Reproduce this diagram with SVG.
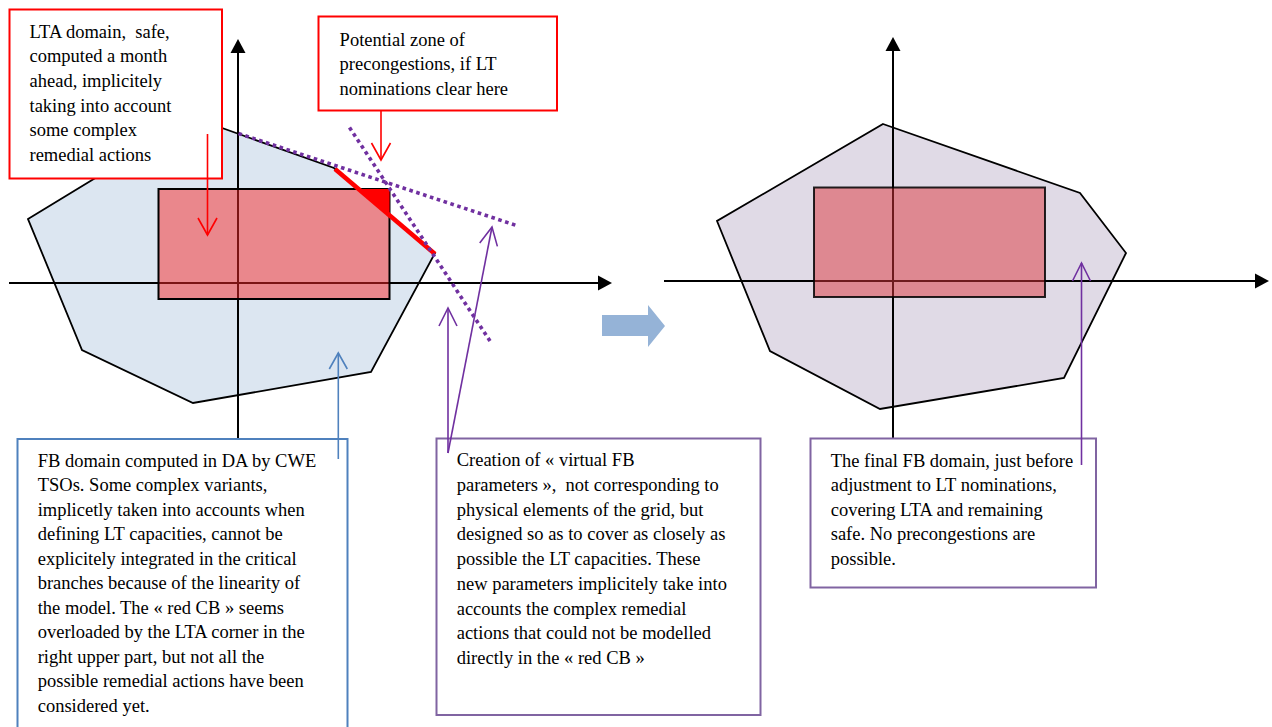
<svg xmlns="http://www.w3.org/2000/svg" width="1272" height="727" viewBox="0 0 1272 727">
<style>
.poly{stroke:#000;stroke-width:1.8;stroke-linejoin:miter}
.axis{stroke:#000;stroke-width:2;fill:none}
.dot{stroke:#7030a0;stroke-width:3.6;stroke-dasharray:3.6 3.6;fill:none}
.box{fill:#fff;stroke-width:2}
.red{stroke:#ff0000}
.t{font-family:"Liberation Serif","Times New Roman",serif;font-size:18.5px;fill:#000}
.arr{fill:none;stroke-width:1.6}
</style>
<defs>
<marker id="axhead" markerUnits="userSpaceOnUse" overflow="visible" orient="auto" refX="0" refY="0" markerWidth="14" markerHeight="16">
<path d="M0,-7.5 L14,0 L0,7.5 Z" fill="#000"/>
</marker>
<marker id="openRed" markerUnits="userSpaceOnUse" overflow="visible" orient="auto" refX="0" refY="0" markerWidth="18" markerHeight="20">
<path d="M-17,-9.5 L0,0 L-17,9.5" fill="none" stroke="#ff0000" stroke-width="1.6"/>
</marker>
<marker id="openBlue" markerUnits="userSpaceOnUse" overflow="visible" orient="auto" refX="0" refY="0" markerWidth="18" markerHeight="20">
<path d="M-16,-9 L0,0 L-16,9" fill="none" stroke="#4f81bd" stroke-width="1.6"/>
</marker>
<marker id="openPurple" markerUnits="userSpaceOnUse" overflow="visible" orient="auto" refX="0" refY="0" markerWidth="18" markerHeight="20">
<path d="M-18,-9 L0,0 L-18,9" fill="none" stroke="#7030a0" stroke-width="1.6"/>
</marker>
</defs>
<rect width="1272" height="727" fill="#fff"/>

<g id="left-fb-domain">
<polygon class="poly" fill="#dce6f1" points="28,219 194,118 334,168 435,253 371,372 193,403 82,350"/>
</g>
<g id="left-axes">
<line class="axis" x1="9" y1="283" x2="598" y2="283" marker-end="url(#axhead)"/>
<line class="axis" x1="238" y1="439" x2="238" y2="53" marker-end="url(#axhead)"/>
</g>
<g id="left-lta">
<rect x="158.5" y="189" width="231" height="110" fill="#f82827" fill-opacity="0.5" stroke="#000" stroke-width="2"/>
</g>
<g id="red-cb">
<polygon points="359,189 389.5,189 389.5,214" fill="#ff0000"/>
<line x1="335" y1="169" x2="435" y2="254" stroke="#ff0000" stroke-width="4.5"/>
</g>
<g id="virtual-fb-parameters">
<line class="dot" x1="238.5" y1="133.5" x2="518" y2="226"/>
<line class="dot" x1="349.5" y1="127.5" x2="492" y2="344"/>
</g>

<g id="right-fb-domain">
<polygon class="poly" fill="#e0dae6" points="883,124 1080,193 1126,253 1064,378 880,409 770,351 717,221"/>
</g>
<g id="right-axes">
<line class="axis" x1="664" y1="281" x2="1255" y2="281" marker-end="url(#axhead)"/>
<line class="axis" x1="893" y1="438" x2="893" y2="51" marker-end="url(#axhead)"/>
</g>
<g id="right-lta">
<rect x="814" y="187.5" width="231" height="109.5" fill="#dc363b" fill-opacity="0.5" stroke="#000" stroke-opacity="0.85" stroke-width="2"/>
</g>

<g id="transition-arrow">
<polygon points="602,315 648,315 648,305 665,326 648,347 648,336 602,336" fill="#95b3d7"/>
</g>

<g id="lta-note">
<rect class="box red" x="9.5" y="9.5" width="212.5" height="169"/>
<text class="t" x="29.5" y="37.5">LTA domain,&#160; safe,</text>
<text class="t" x="29.5" y="62.2">computed a month</text>
<text class="t" x="29.5" y="86.9">ahead, implicitely</text>
<text class="t" x="29.5" y="111.6">taking into account</text>
<text class="t" x="29.5" y="136.3">some complex</text>
<text class="t" x="29.5" y="161">remedial actions</text>
</g>

<g id="precongestion-note">
<rect class="box red" x="318.5" y="16.5" width="238.5" height="94"/>
<text class="t" x="339.6" y="45.7">Potential zone of</text>
<text class="t" x="339.6" y="70.3">precongestions, if LT</text>
<text class="t" x="339.6" y="95">nominations clear here</text>
</g>

<g id="fb-da-note">
<rect class="box" stroke="#4f81bd" x="17.5" y="439" width="330" height="300"/>
<text class="t" x="37.7" y="466.7">FB domain computed in DA by CWE</text>
<text class="t" x="37.7" y="491.2">TSOs. Some complex variants,</text>
<text class="t" x="37.7" y="515.7">implicetly taken into accounts when</text>
<text class="t" x="37.7" y="540.2">defining LT capacities, cannot be</text>
<text class="t" x="37.7" y="564.7">explicitely integrated in the critical</text>
<text class="t" x="37.7" y="589.2">branches because of the linearity of</text>
<text class="t" x="37.7" y="613.7">the model. The « red CB » seems</text>
<text class="t" x="37.7" y="638.2">overloaded by the LTA corner in the</text>
<text class="t" x="37.7" y="662.7">right upper part, but not all the</text>
<text class="t" x="37.7" y="687.2">possible remedial actions have been</text>
<text class="t" x="37.7" y="711.7">considered yet.</text>
</g>

<g id="virtual-fb-note">
<rect class="box" stroke="#8064a2" x="436.5" y="438.5" width="324" height="276.5"/>
<text class="t" x="456.7" y="466">Creation of « virtual FB</text>
<text class="t" x="456.7" y="490.7">parameters »,&#160; not corresponding to</text>
<text class="t" x="456.7" y="515.5">physical elements of the grid, but</text>
<text class="t" x="456.7" y="540.2">designed so as to cover as closely as</text>
<text class="t" x="456.7" y="565">possible the LT capacities. These</text>
<text class="t" x="456.7" y="589.7">new parameters implicitely take into</text>
<text class="t" x="456.7" y="614.5">accounts the complex remedial</text>
<text class="t" x="456.7" y="639.2">actions that could not be modelled</text>
<text class="t" x="456.7" y="664">directly in the « red CB »</text>
</g>

<g id="final-fb-note">
<rect class="box" stroke="#8064a2" x="810.5" y="438.5" width="285.5" height="149"/>
<text class="t" x="830.7" y="466.7">The final FB domain, just before</text>
<text class="t" x="830.7" y="491.2">adjustment to LT nominations,</text>
<text class="t" x="830.7" y="515.7">covering LTA and remaining</text>
<text class="t" x="830.7" y="540.2">safe. No precongestions are</text>
<text class="t" x="830.7" y="564.7">possible.</text>
</g>

<g id="connectors">
<line class="arr" stroke="#ff0000" x1="207.5" y1="134" x2="207.5" y2="235" marker-end="url(#openRed)"/>
<line class="arr" stroke="#ff0000" x1="381" y1="111" x2="381" y2="160" marker-end="url(#openRed)"/>
<line class="arr" stroke="#4f81bd" x1="338.3" y1="459" x2="338.3" y2="353" marker-end="url(#openBlue)"/>
<line class="arr" stroke="#7030a0" x1="448" y1="453" x2="448" y2="308" marker-end="url(#openPurple)"/>
<line class="arr" stroke="#7030a0" x1="448" y1="453" x2="492" y2="227" marker-end="url(#openPurple)"/>
<line class="arr" stroke="#7030a0" x1="1081.5" y1="465" x2="1081.5" y2="263" marker-end="url(#openPurple)"/>
</g>
</svg>
